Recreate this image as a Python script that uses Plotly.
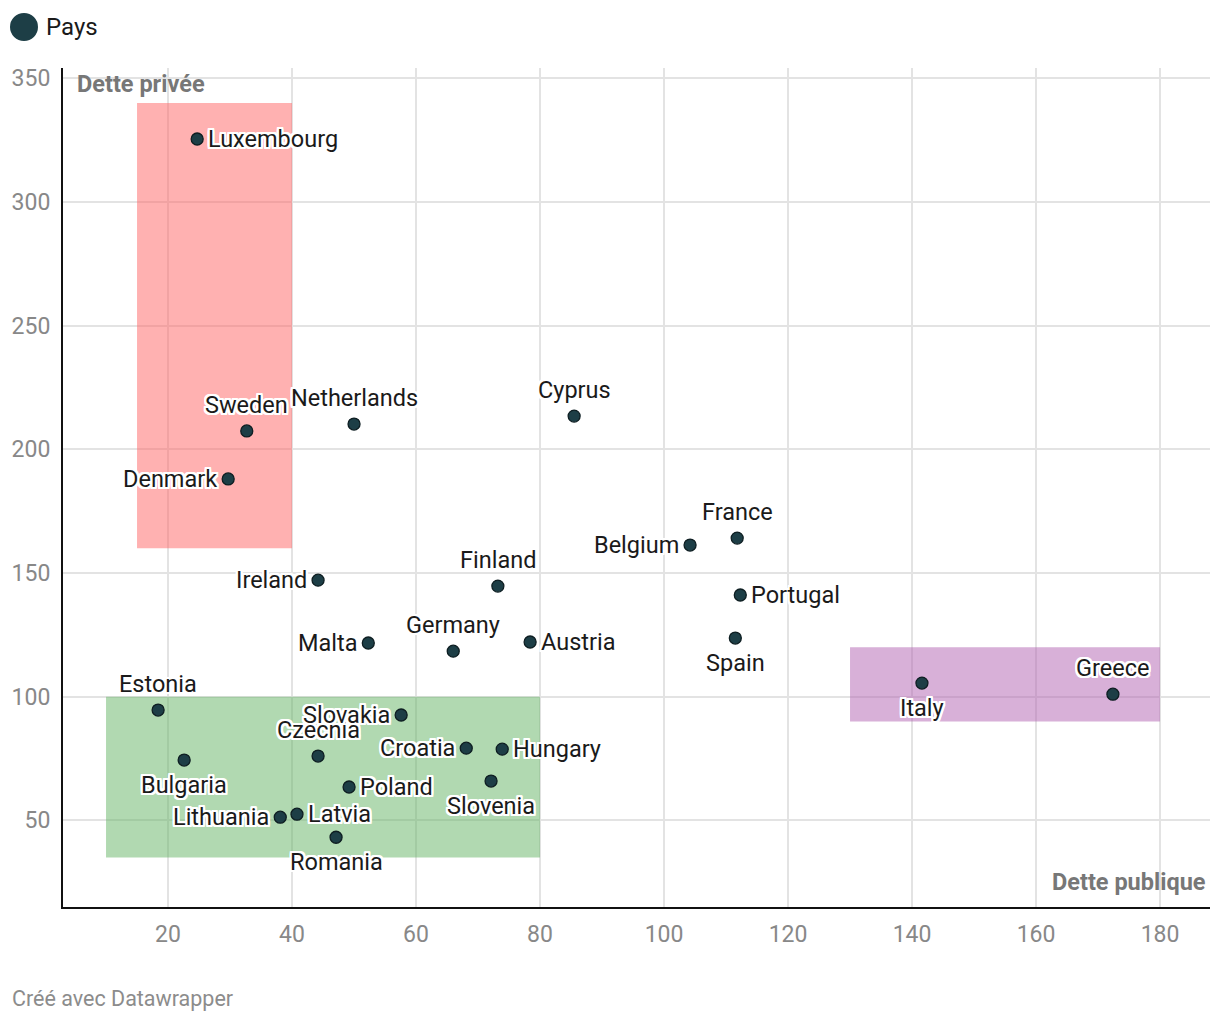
import plotly.graph_objects as go

countries = ["Luxembourg", "Sweden", "Netherlands", "Cyprus", "Denmark", "France", "Belgium",
             "Ireland", "Finland", "Portugal", "Malta", "Austria", "Germany", "Spain", "Italy",
             "Greece", "Estonia", "Czechia", "Slovakia", "Bulgaria", "Croatia", "Hungary",
             "Poland", "Slovenia", "Lithuania", "Latvia", "Romania"]
public_debt = [24.7, 32.7, 50.0, 85.5, 29.7, 111.8, 104.2, 44.2, 73.2, 112.3, 52.3, 78.4, 66.0,
               111.5, 141.6, 172.4, 18.4, 44.2, 57.6, 22.6, 68.1, 73.9, 49.2, 72.1, 38.1, 40.8, 47.1]
private_debt = [325.4, 207.4, 210.2, 213.4, 188.0, 164.1, 161.3, 147.1, 144.7, 141.1, 121.7, 122.1,
                118.4, 123.7, 105.5, 101.0, 94.6, 76.0, 92.6, 74.4, 79.2, 78.8, 63.5, 65.9, 51.3,
                52.5, 43.2]
label_side = ["right", "top", "top", "top", "left", "top", "left", "left", "top", "right", "left",
              "right", "top", "bottom", "bottom", "top", "top", "top", "left", "bottom", "left",
              "right", "right", "bottom", "left", "right", "bottom"]

# highlighted zones: (x0, x1, y0, y1, color)
zones = [
    (15, 40, 160, 340, "rgba(255,100,100,0.5)"),
    (10, 80, 35, 100, "rgba(100,180,100,0.5)"),
    (130, 180, 90, 120, "rgba(177,97,177,0.5)"),
]

x_ticks = [20, 40, 60, 80, 100, 120, 140, 160, 180]
y_ticks = [50, 100, 150, 200, 250, 300, 350]

halo = ", ".join(f"{dx}px {dy}px 0 white" for dx in (-2, -1, 0, 1, 2) for dy in (-2, -1, 0, 1, 2)
                 if (dx, dy) != (0, 0))

fig = go.Figure()
fig.add_trace(go.Scatter(
    x=public_debt, y=private_debt, mode="markers",
    marker=dict(size=12, color="#1d3e46", line=dict(width=1.3, color="#0e1e22")),
    showlegend=False, cliponaxis=False, hoverinfo="skip",
))

label_font = dict(family="Roboto", size=23.5, color="#1a1a1a", shadow=halo)
side_style = {
    "top": dict(xanchor="center", yanchor="middle", xshift=0, yshift=26),
    "bottom": dict(xanchor="center", yanchor="middle", xshift=0, yshift=-25),
    "left": dict(xanchor="right", yanchor="middle", xshift=-9, yshift=0),
    "right": dict(xanchor="left", yanchor="middle", xshift=9, yshift=0),
}
for name, xv, yv, side in zip(countries, public_debt, private_debt, label_side):
    fig.add_annotation(x=xv, y=yv, xref="x", yref="y", text=name, showarrow=False,
                       font=label_font, **side_style[side])

for x0, x1, y0, y1, c in zones:
    fig.add_shape(type="rect", x0=x0, x1=x1, y0=y0, y1=y1, xref="x", yref="y",
                  fillcolor=c, line=dict(width=0), layer="between")

# legend
fig.add_shape(type="circle", xref="paper", yref="paper", x0=-0.0462, x1=-0.0218, y0=1.0322, y1=1.0656,
              fillcolor="#1d3e46", line=dict(width=0))
fig.add_annotation(xref="paper", yref="paper", x=-0.0166, y=1.0489, text="Pays", showarrow=False,
                   xanchor="left", yanchor="middle", font=dict(family="Roboto", size=24, color="#1a1a1a"))

# axis titles
fig.add_annotation(xref="paper", yref="paper", x=0.0105, y=0.981, text="<b>Dette privée</b>",
                   showarrow=False, xanchor="left", yanchor="middle",
                   font=dict(family="Roboto", size=23.5, color="#777777"))
fig.add_annotation(xref="paper", yref="paper", x=0.998, y=0.0298, text="<b>Dette publique</b>",
                   showarrow=False, xanchor="right", yanchor="middle",
                   font=dict(family="Roboto", size=23.5, color="#777777"))
# footer
fig.add_annotation(xref="paper", yref="paper", x=-0.0462, y=-0.1085, text="Créé avec Datawrapper",
                   showarrow=False, xanchor="left", yanchor="middle",
                   font=dict(family="Roboto", size=21.5, color="#8c8c8c"))

fig.update_layout(
    width=1212, height=1014,
    margin=dict(l=55, r=10, t=60, b=115, autoexpand=False),
    paper_bgcolor="white", plot_bgcolor="white",
    font=dict(family="Roboto"),
    xaxis=dict(range=[3.06, 188.06], tickvals=x_ticks, showgrid=True, gridcolor="#e3e3e3",
               gridwidth=1.5, zeroline=False, showline=True, linecolor="#111111", linewidth=2,
               automargin=False,
               tickfont=dict(family="Roboto", size=23, color="#888888"), ticks="", ticklabelstandoff=5),
    yaxis=dict(range=[15.0, 354.1], tickvals=y_ticks, showgrid=True, gridcolor="#e3e3e3",
               gridwidth=1.5, zeroline=False, showline=True, linecolor="#111111", linewidth=2,
               automargin=False,
               tickfont=dict(family="Roboto", size=23, color="#888888"), ticks="", ticklabelstandoff=6),
)

fig.write_html("out.html")
